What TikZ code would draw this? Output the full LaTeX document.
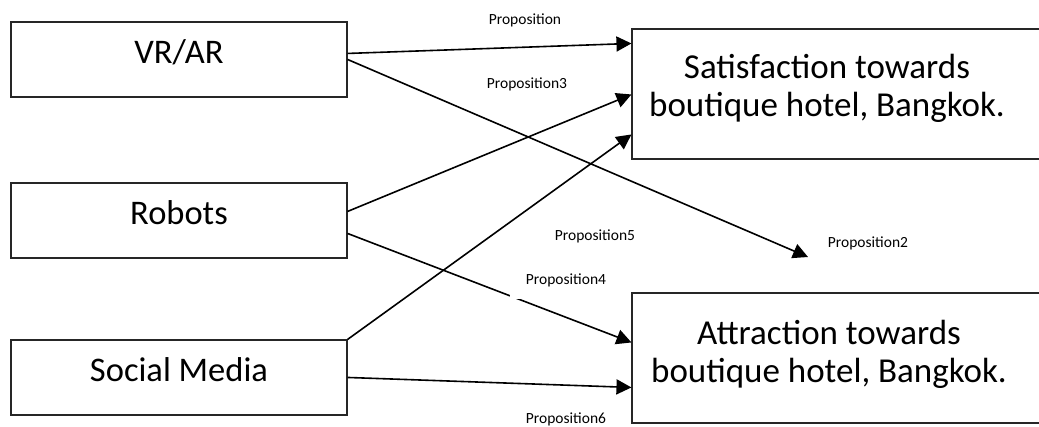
\documentclass[tikz,border=0pt]{standalone}
\usepackage{fontspec}
\setmainfont{Carlito}
\usetikzlibrary{arrows.meta}

\tikzset{
  factor/.style={draw=black!85, line width=1.1pt, rectangle, inner sep=0pt,
    minimum width=336pt, minimum height=75pt,
    font=\fontsize{34.5}{38}\selectfont, text height=27pt, text depth=20pt},
  outcome/.style={draw=black!85, line width=1.1pt, rectangle, inner sep=0pt,
    minimum width=440pt, minimum height=130pt},
  outcometext/.style={align=center, inner sep=0pt,
    font=\fontsize{35}{38}\selectfont},
  link/.style={line width=1.6pt, -{Triangle[length=15pt,width=15pt]}},
  prop/.style={inner sep=0pt, font=\fontsize{15.5}{18}\selectfont}
}

\begin{document}
\begin{tikzpicture}[x=1pt, y=-1pt]
  \useasboundingbox (0,0) rectangle (1039,426);
  \clip (0,0) rectangle (1039,426);

  % independent factors
  \node[factor] (vr)  at (179,59.5)  {VR/AR};
  \node[factor] (rob) at (179,220.5) {Robots};
  \node[factor] (soc) at (179,377.5) {Social Media};

  % outcomes (boxes run past the right margin)
  \node[outcome] (sat) at (852,94)  {};
  \node[outcome] (att) at (852,358) {};
  \node[outcometext] (sattext) at (827,88) {Satisfaction towards\\boutique hotel, Bangkok.};
  \node[outcometext] (atttext) at (829,354) {Attraction towards\\boutique hotel, Bangkok.};

  % loose end of the Proposition2 arrow
  \coordinate (p2end) at (808,257);

  % propositions
  \draw[link] ([yshift=-32pt]vr.north east)  -- ([yshift=-15pt]sat.north west);
  \draw[link] ([yshift=-38pt]vr.north east)  -- (p2end);
  \draw[link] ([yshift=-29pt]rob.north east) -- ([yshift=-66pt]sat.north west);
  \draw[link] ([yshift=-51pt]rob.north east) -- ([yshift=-50pt]att.north west);
  \draw[link] (soc.north east)               -- ([yshift=-106pt]sat.north west);
  \draw[link] ([yshift=-38pt]soc.north east) -- ([yshift=-95pt]att.north west);

  % proposition labels
  \node[prop] (l1) at (525,20)    {Proposition};
  \node[prop] (l3) at (527,84)    {Proposition3};
  \node[prop] (l5) at (595,236.5) {Proposition5};
  \node[prop, fill=white, inner xsep=16pt, inner ysep=12pt] (l4) at (566,280) {Proposition4};
  \node[prop] (l2) at (868,243.5) {Proposition2};
  \node[prop] (l6) at (566,419)   {Proposition6};
\end{tikzpicture}
\end{document}
